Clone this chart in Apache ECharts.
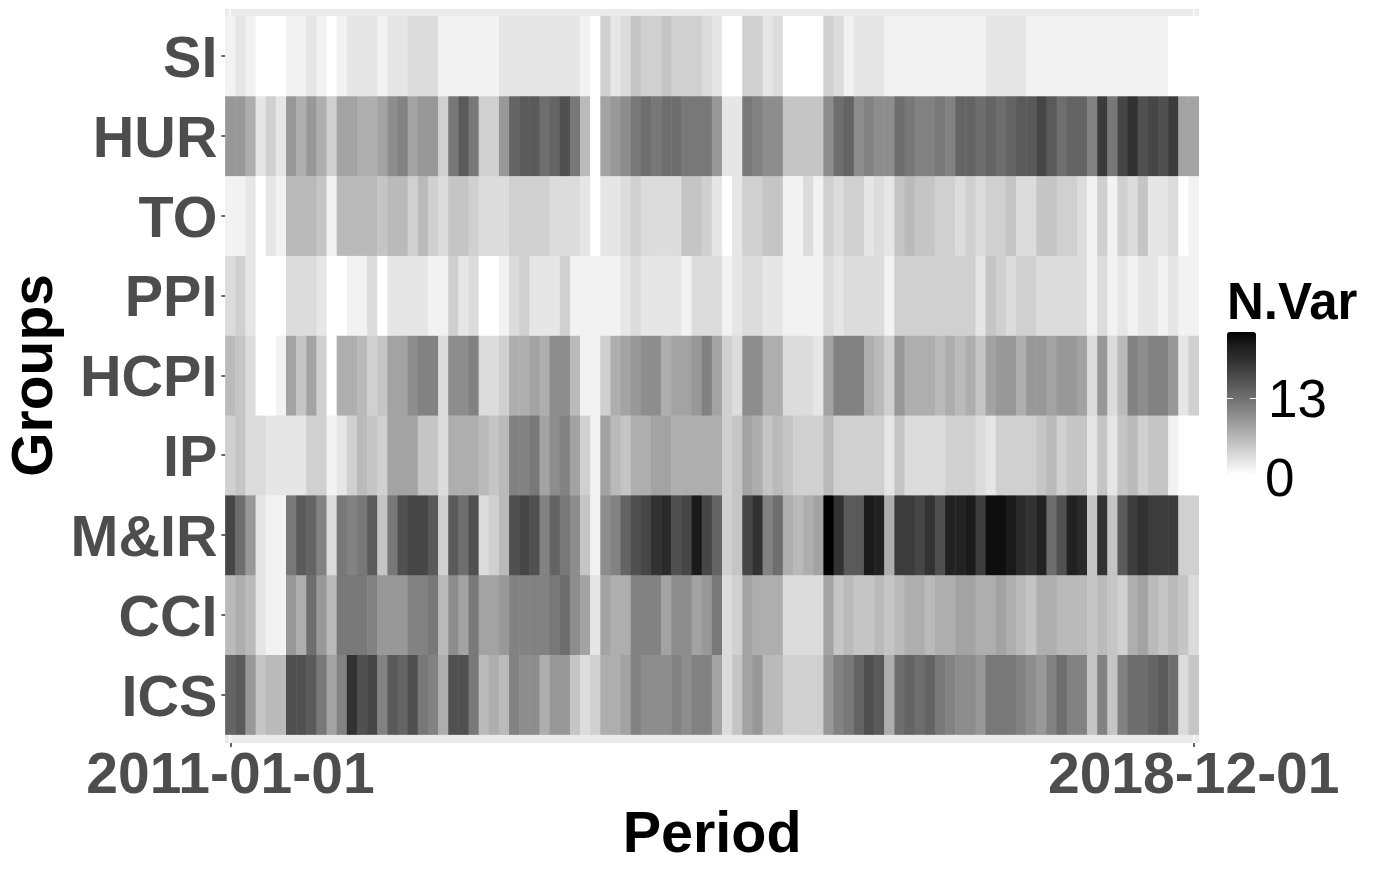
<!DOCTYPE html>
<html>
<head>
<meta charset="utf-8">
<script src="https://cdn.jsdelivr.net/npm/echarts@6/dist/echarts.min.js"></script>
<style>html,body{margin:0;padding:0;background:#fff}#c{width:1375px;height:875px}</style>
</head>
<body>
<div id="c"></div>
<script>
const groups = ['ICS','CCI','M&IR','IP','HCPI','PPI','TO','HUR','SI'];
const periodFirst = '2011-01-01';
const periodLast = '2018-12-01';
const legendLabels = ['13','0'];

// N.Var per month, 2011-01 .. 2018-12 (12 per line)
const si = [1,2,1,0,0,0,1,1,2,1,0,1,
            2,2,2,1,2,2,3,3,3,1,1,1,
            1,1,1,2,2,2,2,2,2,2,2,1,
            0,4,2,3,5,4,4,5,4,4,4,3,
            2,0,0,4,4,2,3,0,0,0,0,4,
            3,1,2,2,2,1,1,1,1,1,1,1,
            1,1,1,2,2,2,2,1,1,1,1,1,
            1,1,1,1,1,1,1,1,1,0,0,0];
const hur = [9,9,7,2,4,2,9,7,9,7,4,8,
             8,7,7,8,10,11,8,9,9,4,12,15,
             12,4,4,9,14,15,15,13,14,16,12,6,
             0,8,9,10,12,13,12,13,13,12,12,12,
             9,2,2,12,11,10,10,5,5,5,5,10,
             13,14,10,11,10,10,13,12,11,11,12,11,
             14,14,13,14,13,14,15,15,17,15,13,14,
             14,11,18,12,17,19,16,17,16,18,8,8];
const to = [1,1,2,0,2,1,6,6,6,5,1,6,
            6,6,6,5,6,6,4,6,4,3,5,5,
            4,3,3,3,4,4,4,4,3,3,3,2,
            0,2,2,3,4,3,3,3,3,5,5,4,
            2,0,2,4,4,5,5,1,1,3,1,4,
            3,4,4,2,3,2,5,6,5,5,4,4,
            3,4,3,4,4,5,3,3,5,5,4,4,
            3,1,4,1,4,3,5,2,2,3,0,1];
const ppi = [3,4,2,0,0,0,3,3,3,2,0,0,
             1,1,3,0,2,2,2,2,1,1,4,2,
             3,0,0,1,3,4,2,2,2,4,1,1,
             1,1,1,2,3,2,2,2,2,1,3,3,
             3,1,2,3,3,2,2,1,1,1,1,3,
             2,3,3,3,3,1,4,4,4,4,4,4,
             4,4,2,5,4,3,4,4,3,3,3,3,
             3,1,3,1,2,1,2,2,1,2,1,1];
const hcpi = [6,5,3,0,0,1,8,5,8,4,0,7,
              7,6,4,5,8,8,10,11,11,3,10,10,
              11,3,3,4,7,7,8,7,10,10,6,1,
              1,4,7,8,9,10,10,7,8,8,9,11,
              8,4,3,10,10,7,7,3,3,3,2,8,
              11,11,11,7,6,4,9,7,7,7,6,7,
              6,7,5,8,9,9,7,9,9,8,9,9,
              8,3,9,3,6,11,10,11,11,9,2,4];
const ip = [4,5,3,3,2,2,2,2,4,4,1,2,
            4,6,5,4,8,8,8,5,5,3,7,7,
            7,6,5,6,11,11,12,8,10,11,8,4,
            1,8,6,5,7,7,8,8,7,7,7,7,
            7,4,5,8,7,5,6,5,4,4,4,6,
            4,4,4,4,4,2,5,3,3,3,3,4,
            4,4,3,2,4,4,4,4,5,6,4,5,
            5,2,5,2,5,6,4,5,5,1,0,0];
const mir = [17,13,9,2,1,1,12,15,14,11,3,12,
             11,12,15,5,12,16,17,17,15,4,15,13,
             16,3,4,6,16,17,16,11,14,12,10,5,
             1,10,11,14,16,17,19,20,16,17,22,17,
             14,4,5,17,19,11,13,7,6,7,8,24,
             19,15,15,22,21,7,18,18,17,19,16,21,
             21,22,18,23,23,22,20,19,21,13,16,21,
             20,5,19,5,15,18,19,18,18,18,4,4];
const cci = [6,7,6,2,1,1,9,7,13,9,6,12,
             12,12,11,9,9,9,11,11,12,6,10,8,
             12,8,8,9,11,11,11,11,12,13,10,8,
             2,8,7,7,11,11,11,8,10,10,8,9,
             12,3,4,8,7,7,7,3,3,3,3,8,
             5,6,5,5,6,5,6,7,7,6,7,7,
             8,8,7,7,8,7,6,5,7,7,6,6,
             6,5,6,5,4,7,8,6,5,6,5,3];
const ics = [14,15,9,5,6,6,16,16,15,12,8,11,
             19,16,17,11,15,14,16,12,11,7,16,16,
             12,6,7,6,11,10,10,7,9,9,5,3,
             4,7,7,8,11,10,10,10,11,10,11,11,
             8,3,5,8,9,6,6,4,4,4,4,9,
             11,12,14,16,15,7,13,14,13,14,12,11,
             10,10,9,12,12,12,11,10,9,11,13,11,
             11,5,11,5,11,13,13,14,15,13,3,5];

const rows = [ics, cci, mir, ip, hcpi, ppi, to, hur, si];
const maxVar = 24;
const palette = ['#ffffff','#f2f2f2','#e6e6e6','#dcdcdc','#d0d0d0','#c5c5c5','#bababa','#aeaeae','#a3a3a3',
                 '#989898','#8d8d8d','#828282','#787878','#6e6e6e','#646464','#5a5a5a','#505050','#464646',
                 '#3c3c3c','#323232','#2a2a2a','#222222','#1a1a1a','#0e0e0e','#000000'];

const periods = [];
for (let y = 2011; y <= 2018; y++) for (let m = 1; m <= 12; m++)
  periods.push(y + '-' + String(m).padStart(2,'0') + '-01');

const cells = [];
rows.forEach((r, yi) => r.forEach((v, xi) => cells.push([xi, yi, v])));

const font = '"Liberation Sans", Arial, sans-serif';
const endpoint = (i, label) => label === periodFirst || label === periodLast;

const chart = echarts.init(document.getElementById('c'), null, {renderer:'canvas'});
chart.setOption({
  backgroundColor:'#ffffff',
  animation:false,
  grid:[
    {left:225.4, top:16.2, width:973.4, height:718.4, containLabel:false, outerBoundsMode:'none'},
    {left:225, top:9, width:974, height:734, show:true, backgroundColor:'#ebebeb', borderWidth:0, outerBoundsMode:'none'}
  ],
  xAxis:[
    {type:'category', gridIndex:0, data:periods, position:'bottom', offset:8.4,
     axisLine:{show:false},
     axisTick:{show:true, alignWithLabel:true, length:4, lineStyle:{color:'#333333', width:1.5}, interval:endpoint},
     axisLabel:{show:true, interval:endpoint, hideOverlap:false, margin:6, fontFamily:font, fontWeight:'bold', fontSize:57, color:'#4d4d4d', lineHeight:57},
     splitLine:{show:false},
     name:'Period', nameLocation:'middle', nameGap:65, nameMoveOverlap:false,
     nameTextStyle:{fontFamily:font, fontWeight:'bold', fontSize:57.5, color:'#000000', lineHeight:57}},
    {type:'value', gridIndex:1, min:0.5, max:96.5, axisLine:{show:false},
     axisTick:{show:false, customValues:[1,96]}, axisLabel:{show:false, customValues:[1,96]},
     splitLine:{show:true, lineStyle:{color:'#ffffff', width:1.5}}}
  ],
  yAxis:[
    {type:'category', gridIndex:0, data:groups,
     axisLine:{show:false},
     axisTick:{show:true, alignWithLabel:true, length:4, lineStyle:{color:'#333333', width:1.5}},
     axisLabel:{margin:8, verticalAlign:'top', lineHeight:10, fontFamily:font, fontWeight:'bold', fontSize:57.5, color:'#4d4d4d'},
     splitLine:{show:false},
     name:'Groups', nameLocation:'middle', nameRotate:90, nameGap:161, nameMoveOverlap:false,
     nameTextStyle:{fontFamily:font, fontWeight:'bold', fontSize:57, color:'#000000', lineHeight:57}},
    {type:'value', gridIndex:1, min:0, max:1, axisLine:{show:false}, axisTick:{show:false},
     axisLabel:{show:false}, splitLine:{show:false}}
  ],
  visualMap:{
    type:'continuous', min:0, max:maxVar, dimension:2, seriesIndex:0,
    left:1227, top:332, itemWidth:29, itemHeight:142, padding:0,
    calculable:false, hoverLink:false, text:null, showLabel:false,
    inRange:{color:palette}
  },
  series:[{
    type:'heatmap', xAxisIndex:0, yAxisIndex:0, data:cells, silent:true,
    itemStyle:{borderWidth:0}, progressive:0
  }],
  graphic:[
    {type:'text', left:1227, top:279, z:10, silent:true,
     style:{text:'N.Var', font:'bold 51px '+font, fill:'#000000'}},
    {type:'text', left:1268, top:376, z:10, silent:true,
     style:{text:legendLabels[0], font:'53px '+font, fill:'#000000'}},
    {type:'text', left:1265, top:455, z:10, silent:true,
     style:{text:legendLabels[1], font:'53px '+font, fill:'#000000'}},
    {type:'rect', left:1227, top:398, z:10, silent:true, shape:{width:6, height:1}, style:{fill:'#ffffff'}},
    {type:'rect', left:1250, top:398, z:10, silent:true, shape:{width:6, height:1}, style:{fill:'#ffffff'}}
  ]
});
</script>
</body>
</html>
